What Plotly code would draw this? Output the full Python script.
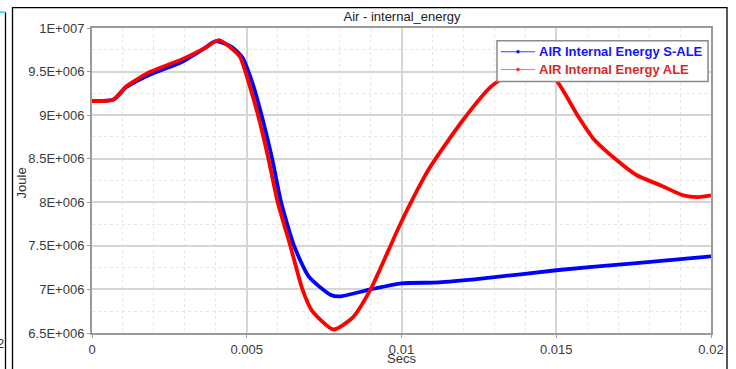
import plotly.graph_objects as go

# ---- data ----
t_ale = [0, 0.0007, 0.0011, 0.0019, 0.0029, 0.0036, 0.0041, 0.00446, 0.00478, 0.0051, 0.0054,
         0.0057, 0.0060, 0.0064, 0.0068, 0.0071, 0.0078, 0.00843, 0.0090, 0.0100, 0.0109,
         0.0120, 0.0129, 0.0136, 0.0144, 0.0150, 0.0157, 0.0162, 0.0170, 0.0176, 0.0184,
         0.0191, 0.0196, 0.0200]
e_ale = [9.16e6, 9.18e6, 9.33e6, 9.50e6, 9.64e6, 9.76e6, 9.86e6, 9.78e6, 9.67e6, 9.33e6, 8.95e6,
         8.50e6, 8.00e6, 7.51e6, 7.00e6, 6.76e6, 6.54e6, 6.68e6, 7.00e6, 7.78e6, 8.39e6,
         8.95e6, 9.33e6, 9.49e6, 9.56e6, 9.40e6, 8.99e6, 8.73e6, 8.47e6, 8.31e6, 8.19e6,
         8.08e6, 8.06e6, 8.08e6]

t_sale = [0, 0.0007, 0.0011, 0.0019, 0.0029, 0.0036, 0.0040, 0.00452, 0.00486, 0.0052, 0.0055,
          0.00582, 0.00611, 0.00653, 0.0070, 0.0077, 0.0080, 0.0090, 0.0100, 0.0112, 0.0125,
          0.0150, 0.0175, 0.0200]
e_sale = [9.16e6, 9.18e6, 9.32e6, 9.47e6, 9.61e6, 9.76e6, 9.85e6, 9.78e6, 9.66e6, 9.35e6, 8.97e6,
          8.50e6, 8.00e6, 7.50e6, 7.15e6, 6.94e6, 6.92e6, 7.00e6, 7.07e6, 7.08e6, 7.12e6,
          7.22e6, 7.30e6, 7.38e6]

x_ticks = [0, 0.005, 0.01, 0.015, 0.02]
x_tick_text = ["0", "0.005", "0.01", "0.015", "0.02"]
y_ticks = [6.5e6, 7e6, 7.5e6, 8e6, 8.5e6, 9e6, 9.5e6, 1e7]
y_tick_text = ["6.5E+006", "7E+006", "7.5E+006", "8E+006", "8.5E+006", "9E+006", "9.5E+006", "1E+007"]

series_names = ["AIR Internal Energy S-ALE", "AIR Internal Energy ALE"]
BLUE = "#0000ff"
RED = "#ff0000"

FONT = "Liberation Sans, Arial, sans-serif"
FS = 13

fig = go.Figure()
fig.add_trace(go.Scatter(x=t_sale, y=e_sale, mode="lines", name=series_names[0], showlegend=False,
                         line=dict(color=BLUE, width=3.8, shape="spline", smoothing=0.6)))
fig.add_trace(go.Scatter(x=t_ale, y=e_ale, mode="lines", name=series_names[1], showlegend=False,
                         line=dict(color=RED, width=3.8, shape="spline", smoothing=0.6)))

W, H = 736, 369
L, R, T, B = 92, 711, 28, 336
pw, ph = R - L, B - T


def px(x):
    return (x - L) / pw


def py(y):
    return (B - y) / ph


fig.update_layout(
    width=W, height=H,
    margin=dict(l=L, r=W - R, t=T, b=H - B, pad=0),
    paper_bgcolor="white", plot_bgcolor="white",
    font=dict(family=FONT, size=FS, color="#333333"),
    title=dict(text="Air - internal_energy", x=402 / W, xanchor="center",
               y=1 - 16 / H, yanchor="middle", yref="container",
               font=dict(family=FONT, size=FS, color="#222222")),
    showlegend=False,
)

axis_common = dict(showgrid=True, gridcolor="#d6d6d6", gridwidth=1.5,
                   showline=True, linecolor="#9a9a9a", linewidth=2, mirror=True,
                   ticks="outside", ticklen=3, tickcolor="#9a9a9a",
                   tickfont=dict(family=FONT, size=FS, color="#3a3a3a"), zeroline=False)
fig.update_xaxes(range=[0, 0.02], tickvals=x_ticks, ticktext=x_tick_text,
                 minor=dict(dtick=0.001, showgrid=True, gridcolor="#e6e6e6", griddash="dot", gridwidth=1),
                 **axis_common)
fig.update_yaxes(range=[6.5e6, 1e7], tickvals=y_ticks, ticktext=y_tick_text,
                 minor=dict(dtick=0.25e6, showgrid=True, gridcolor="#e6e6e6", griddash="dot", gridwidth=1),
                 **axis_common)

# axis titles
fig.add_annotation(text="Secs", x=px(401), y=py(362), xref="paper", yref="paper",
                   xanchor="center", yanchor="middle", borderpad=0,
                   showarrow=False, font=dict(family=FONT, size=FS, color="#333333"))
fig.add_annotation(text="Joule", x=px(21), y=py(185), xref="paper", yref="paper",
                   xanchor="center", yanchor="middle",
                   showarrow=False, textangle=-90, font=dict(family=FONT, size=FS, color="#333333"))
# cut-off character at the far left
fig.add_annotation(text="2", x=px(0), y=py(347), xref="paper", yref="paper",
                   xanchor="center", yanchor="middle",
                   showarrow=False, font=dict(family=FONT, size=FS, color="#333333"))

# ---- legend drawn manually ----
fig.add_shape(type="rect", xref="paper", yref="paper",
              x0=px(497), x1=px(708), y0=py(82), y1=py(41),
              line=dict(color="#8a8a8a", width=1.5), fillcolor="white", layer="above")
leg_rows = [(52, "#3a3aff", "#1010ff", "#1414ff"), (70, "#ff6a6a", "#ff2020", "#d42a2a")]
for (yy, lc, mc, tc), nm in zip(leg_rows, series_names):
    fig.add_shape(type="line", xref="paper", yref="paper",
                  x0=px(501), x1=px(535), y0=py(yy), y1=py(yy),
                  line=dict(color=lc, width=1), layer="above")
    fig.add_shape(type="circle", xref="paper", yref="paper",
                  x0=px(516.5), x1=px(519.5), y0=py(yy + 1.5), y1=py(yy - 1.5),
                  line=dict(color=mc, width=0.5), fillcolor=mc, layer="above")
    fig.add_annotation(text=f"<b>{nm}</b>", x=px(537), y=py(yy), xref="paper", yref="paper",
                       xanchor="left", yanchor="middle", showarrow=False,
                       font=dict(family=FONT, size=FS, color=tc))

# outer frames
fig.add_shape(type="rect", xref="paper", yref="paper",
              x0=px(12.5), x1=px(727), y0=py(380), y1=py(7.5),
              line=dict(color="black", width=1.3), fillcolor="rgba(0,0,0,0)", layer="above")
fig.add_shape(type="line", xref="paper", yref="paper",
              x0=px(5.5), x1=px(5.5), y0=py(12), y1=py(380),
              line=dict(color="black", width=1.3))
fig.add_shape(type="line", xref="paper", yref="paper",
              x0=px(-2), x1=px(5.5), y0=py(12), y1=py(12),
              line=dict(color="#20d8e8", width=1.5))

fig.write_html("out.html")
